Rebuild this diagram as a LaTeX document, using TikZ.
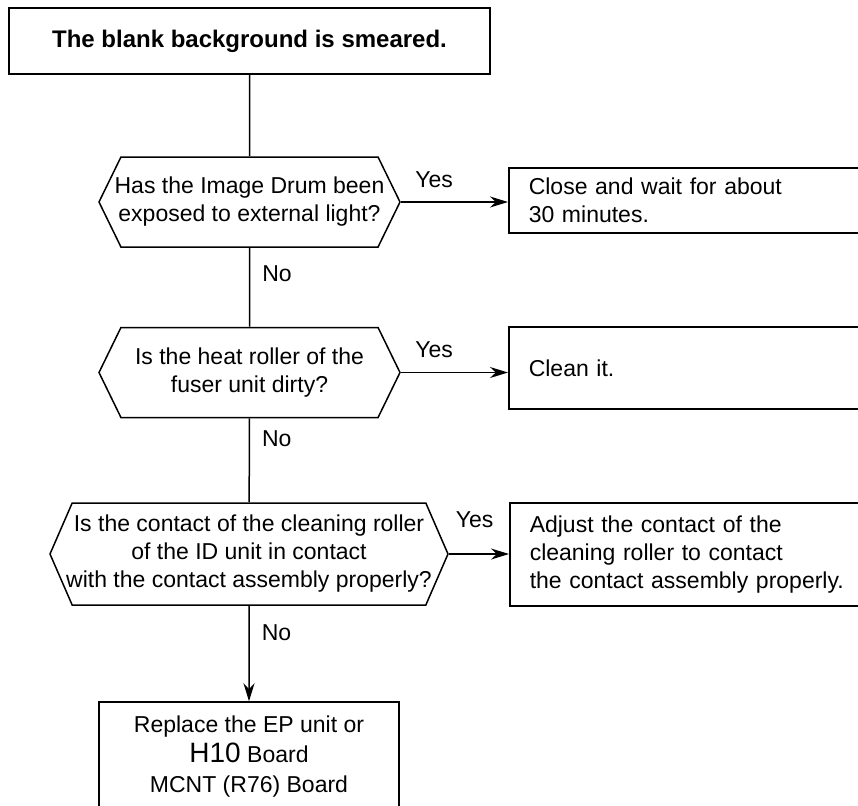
\documentclass[tikz,border=0pt]{standalone}
\usepackage{fontspec}
\setmainfont{Liberation Sans}
\usetikzlibrary{arrows.meta,
                positioning,
                shapes.symbols}

\begin{document}
\begin{tikzpicture}[
        x=0.5pt, y=-0.5pt,
        line width=0.75pt,
        font=\fontsize{11.5}{14}\selectfont,
        problem/.style={rectangle, minimum width=240.5pt, minimum height=33pt, text centered, draw=black, font=\fontsize{12}{14}\selectfont\bfseries},
        decision/.style={signal, signal to=west and east, signal pointer angle=128, minimum width=150.5pt, minimum height=45pt, inner xsep=-15pt, inner ysep=0pt, align=center, draw=black},
        process/.style={rectangle, anchor=west, text width=190pt, inner xsep=10pt, align=left, draw=black},
        result/.style={rectangle, minimum width=150pt, align=center, draw=black, font=\fontsize{11.5}{15}\selectfont},
        answer/.style={inner sep=0pt},
        link/.style={arrows=-{Stealth[length=9pt, width=5.5pt]}}
        ]

        \useasboundingbox (0,0) rectangle (858,805);
        \clip (0,0) rectangle (858,805);

        \node (problem) [problem]                                    at (249.5,41)  {The blank background is smeared.};
        \node (ask1)    [decision]                                   at (249.5,202) {Has the Image Drum been\\exposed to external light?};
        \node (ask2)    [decision]                                   at (249.5,372.5) {Is the heat roller of the\\fuser unit dirty?};
        \node (ask3)    [decision, minimum width=199pt, minimum height=51pt, signal pointer angle=133] at (249,554) {Is the contact of the cleaning roller\\of the ID unit in contact\\with the contact assembly properly?};
        \node (fix1)    [process, minimum height=32.5pt]             at (508,200.5) {Close and wait for about\\30 minutes.};
        \node (fix2)    [process, minimum height=41pt]               at (508,368)   {Clean it.};
        \node (fix3)    [process, minimum height=51.5pt]             at (509,554.5) {Adjust the contact of the\\cleaning roller to contact\\the contact assembly properly.};
        \node (fix4)    [result, minimum height=55pt]                at (249,757)   {Replace the EP unit or\\{\fontsize{14}{16}\selectfont H10} Board\\MCNT (R76) Board};

        \draw (problem) -- (ask1);
        \draw (ask1) -- node[answer, right=6pt, pos=0.33] {No} (ask2);
        \draw (ask2) -- node[answer, right=6pt, pos=0.24] {No} (ask3);
        \draw [link] (ask3) -- node[answer, right=6pt, pos=0.28] {No} (fix4);
        \draw [link] (ask1.east) -- node[answer, above=7pt, pos=0.31] {Yes} (ask1.east -| fix1.west);
        \draw [link] (ask2.east) -- node[answer, above=7pt, pos=0.31] {Yes} (ask2.east -| fix2.west);
        \draw [link] (ask3.east) -- node[answer, above=13pt, pos=0.43] {Yes} (ask3.east -| fix3.west);

\end{tikzpicture}
\end{document}
